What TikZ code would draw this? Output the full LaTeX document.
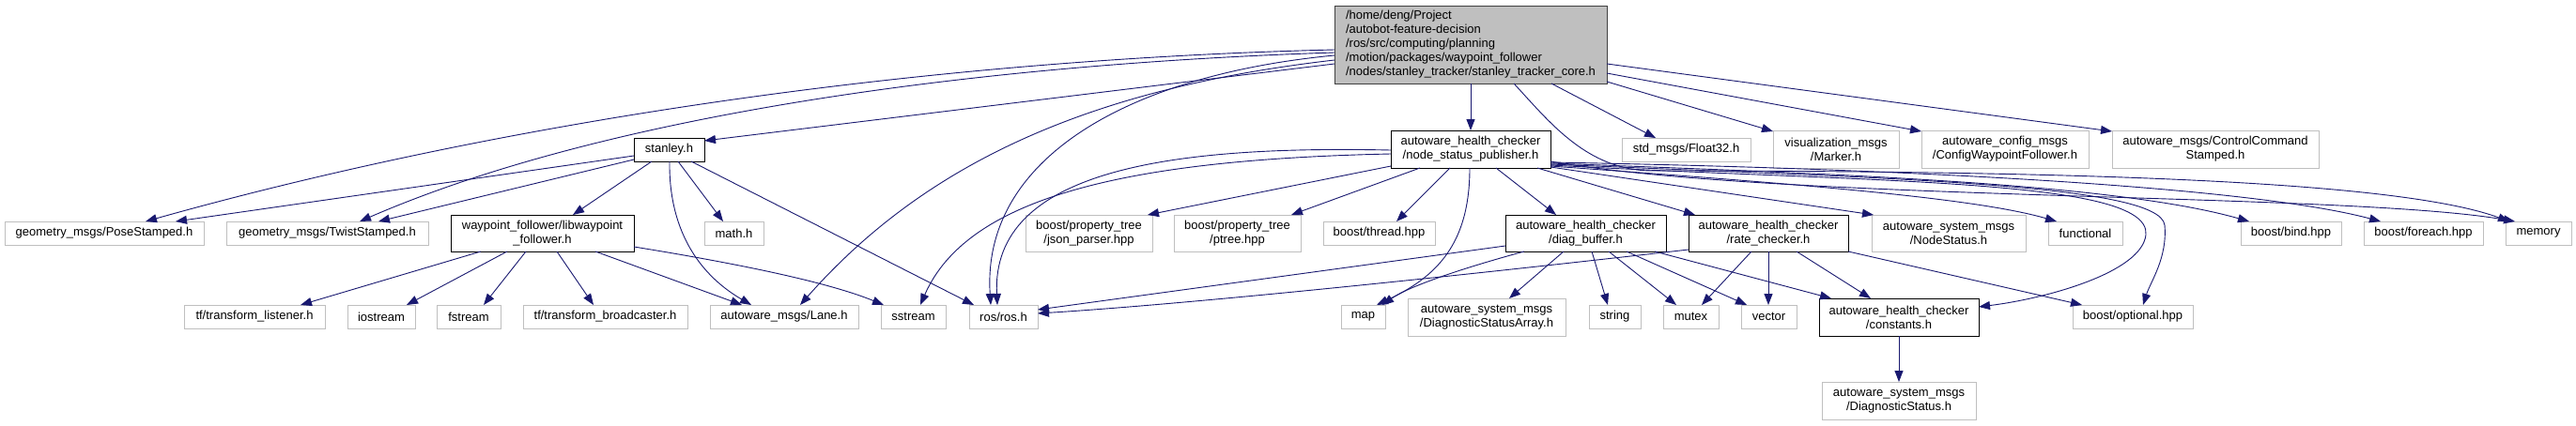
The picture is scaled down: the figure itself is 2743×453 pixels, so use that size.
\documentclass[tikz,border=0pt]{standalone}
\usepackage{fontspec}
\setmainfont{Liberation Sans}
\usetikzlibrary{arrows.meta}
\definecolor{edgeblue}{HTML}{191970}
\definecolor{extgray}{HTML}{BFBFBF}
\definecolor{rootfill}{HTML}{BFBFBF}
\definecolor{rootborder}{HTML}{404040}
\newcommand\nodefont{\fontsize{13}{15}\selectfont}
\begin{document}
\begin{tikzpicture}[x=1pt,y=-1pt,
  box/.style={draw, rectangle, inner sep=0pt, outer sep=0pt, align=center, font=\nodefont, text=black},
  ext/.style={box, draw=extgray, line width=1pt},
  doc/.style={box, draw=black, line width=1pt},
  rootbox/.style={box, draw=rootborder, fill=rootfill, line width=1pt, align=left},
  dep/.style={draw=edgeblue, line width=0.9pt, -{Triangle[length=12pt,width=9pt]}}]
\fill[white] (0,0) rectangle (2743,453);
\useasboundingbox (0,0) rectangle (2743,453);
% row 1
\node[rootbox, minimum width=290, minimum height=83] (root) at (1566,47.5) {/home/deng/Project\\/autobot-feature-decision\\/ros/src/computing/planning\\/motion/packages/waypoint\_follower\\/nodes/stanley\_tracker/stanley\_tracker\_core.h};
% row 2
\node[doc, minimum width=170, minimum height=40] (nsp) at (1566,159) {autoware\_health\_checker\\/node\_status\_publisher.h};
\node[ext, minimum width=137, minimum height=25] (flt) at (1795.5,159.5) {std\_msgs/Float32.h};
\node[ext, minimum width=134, minimum height=40] (mrk) at (1955,159) {visualization\_msgs\\/Marker.h};
\node[ext, minimum width=178, minimum height=40] (cfg) at (2135,159) {autoware\_config\_msgs\\/ConfigWaypointFollower.h};
\node[ext, minimum width=220, minimum height=40] (ctl) at (2359,159) {autoware\_msgs/ControlCommand\\Stamped.h};
\node[doc, minimum width=75, minimum height=25] (stn) at (712.5,159.5) {stanley.h};
% row 3
\node[ext, minimum width=212, minimum height=25] (pose) at (111,248.5) {geometry\_msgs/PoseStamped.h};
\node[ext, minimum width=215, minimum height=25] (twist) at (348.5,248.5) {geometry\_msgs/TwistStamped.h};
\node[doc, minimum width=195, minimum height=39] (lwp) at (577.5,248.5) {waypoint\_follower/libwaypoint\\\_follower.h};
\node[ext, minimum width=63, minimum height=25] (math) at (781.5,248.5) {math.h};
\node[ext, minimum width=135, minimum height=39] (json) at (1159.5,248.5) {boost/property\_tree\\/json\_parser.hpp};
\node[ext, minimum width=135, minimum height=39] (ptree) at (1317.5,248.5) {boost/property\_tree\\/ptree.hpp};
\node[ext, minimum width=119, minimum height=25] (thr) at (1468.5,248.5) {boost/thread.hpp};
\node[doc, minimum width=171, minimum height=39] (diag) at (1688.5,248.5) {autoware\_health\_checker\\/diag\_buffer.h};
\node[doc, minimum width=170, minimum height=39] (rate) at (1883,248.5) {autoware\_health\_checker\\/rate\_checker.h};
\node[ext, minimum width=164, minimum height=39] (nst) at (2075,248.5) {autoware\_system\_msgs\\/NodeStatus.h};
\node[ext, minimum width=79, minimum height=25] (fun) at (2220.5,248.5) {functional};
\node[ext, minimum width=107, minimum height=25] (bind) at (2439.5,248.5) {boost/bind.hpp};
\node[ext, minimum width=127, minimum height=25] (fore) at (2580.5,248.5) {boost/foreach.hpp};
\node[ext, minimum width=70, minimum height=25] (mem) at (2703,248.5) {memory};
% row 4
\node[ext, minimum width=150, minimum height=25] (tfl) at (271,337.5) {tf/transform\_listener.h};
\node[ext, minimum width=72, minimum height=25] (ios) at (406,337.5) {iostream};
\node[ext, minimum width=68, minimum height=25] (fst) at (499,337.5) {fstream};
\node[ext, minimum width=175, minimum height=25] (tfb) at (644.5,337.5) {tf/transform\_broadcaster.h};
\node[ext, minimum width=158, minimum height=25] (lane) at (835,337.5) {autoware\_msgs/Lane.h};
\node[ext, minimum width=69, minimum height=25] (sst) at (972.5,337.5) {sstream};
\node[ext, minimum width=73, minimum height=25] (ros) at (1068.5,337.5) {ros/ros.h};
\node[ext, minimum width=47, minimum height=25] (map) at (1451.5,337.5) {map};
\node[ext, minimum width=168, minimum height=40] (dsa) at (1583,338) {autoware\_system\_msgs\\/DiagnosticStatusArray.h};
\node[ext, minimum width=55, minimum height=25] (str) at (1719.5,337.5) {string};
\node[ext, minimum width=59, minimum height=25] (mtx) at (1800.5,337.5) {mutex};
\node[ext, minimum width=59, minimum height=25] (vec) at (1883.5,337.5) {vector};
\node[doc, minimum width=170, minimum height=40] (cst) at (2022,338) {autoware\_health\_checker\\/constants.h};
\node[ext, minimum width=128, minimum height=25] (opt) at (2271,337.5) {boost/optional.hpp};
% row 5
\node[ext, minimum width=164, minimum height=40] (dst) at (2022,427) {autoware\_system\_msgs\\/DiagnosticStatus.h};

% root edges
\draw[dep] (root.south) -- (nsp.north);
\draw[dep] ([yshift=21]root.south west) -- ([yshift=22]stn.south east);
\draw[dep] ([yshift=36]root.south west) .. controls (1000,63) and (550,125) .. ([xshift=150]pose.north west);
\draw[dep] ([yshift=33]root.south west) .. controls (1050,68) and (650,120) .. ([xshift=142]twist.north west);
\draw[dep] ([yshift=30]root.south west) .. controls (1200,80) and (1045,170) .. ([xshift=23]ros.north west);
\draw[dep] ([yshift=25]root.south west) .. controls (1150,95) and (980,180) .. ([xshift=96]lane.north west);
\draw[dep] ([xshift=231]root.south west) -- ([xshift=36]flt.north west);
\draw[dep] ([yshift=2]root.south east) -- ([yshift=-1]mrk.north west);
\draw[dep] ([yshift=11]root.south east) -- ([yshift=-1]cfg.north west);
\draw[dep] ([yshift=21]root.south east) -- ([yshift=-1]ctl.north west);
\draw[dep] ([xshift=191]root.south west) .. controls (1650,130) and (1690,182) .. (1760,182) .. controls (2250,182) and (2560,195) .. ([xshift=4]mem.north west);
% stanley edges
\draw[dep] ([yshift=6]stn.south west) -- ([xshift=182]pose.north west);
\draw[dep] ([yshift=2]stn.south west) -- ([xshift=162]twist.north west);
\draw[dep] ([xshift=19]stn.south west) -- ([xshift=130]lwp.north west);
\draw[dep] ([xshift=38]stn.south west) .. controls (712,240) and (740,290) .. ([xshift=44]lane.north west);
\draw[dep] ([xshift=47]stn.south west) -- ([xshift=20]math.north west);
\draw[dep] ([xshift=61]stn.south west) -- ([xshift=5]ros.north west);
% libwaypoint_follower edges
\draw[dep] ([xshift=32]lwp.south west) -- ([xshift=124]tfl.north west);
\draw[dep] ([xshift=60]lwp.south west) -- ([xshift=63]ios.north west);
\draw[dep] ([xshift=80]lwp.south west) -- ([xshift=50]fst.north west);
\draw[dep] ([xshift=113]lwp.south west) -- ([xshift=75]tfb.north west);
\draw[dep] ([xshift=154]lwp.south west) -- ([xshift=34]lane.north west);
\draw[dep] ([yshift=5]lwp.south east) .. controls (780,280) and (880,300) .. ([xshift=3]sst.north west);
% node_status_publisher edges
\draw[dep] ([yshift=19]nsp.south west) .. controls (1250,155) and (1055,180) .. ([xshift=30]ros.north west);
\draw[dep] ([yshift=15]nsp.south west) .. controls (1200,170) and (1030,210) .. ([xshift=42]sst.north west);
\draw[dep] ([yshift=2]nsp.south west) -- ([xshift=130]json.north west);
\draw[dep] ([xshift=31]nsp.south west) -- ([xshift=125]ptree.north west);
\draw[dep] ([xshift=63]nsp.south west) -- ([xshift=78]thr.north west);
\draw[dep] ([xshift=84]nsp.south west) .. controls (1565,260) and (1530,295) .. ([xshift=38]map.north west);
\draw[dep] ([xshift=112]nsp.south west) -- ([xshift=54]diag.north west);
\draw[dep] ([xshift=156]nsp.south west) -- ([xshift=7]rate.north west);
\draw[dep] ([yshift=1]nsp.south east) -- ([xshift=2]nst.north west);
\draw[dep] ([yshift=2]nsp.south east) .. controls (1900,195) and (2100,210) .. ([xshift=9]fun.north west);
\draw[dep] ([yshift=3]nsp.south east) .. controls (2000,195) and (2290,190) .. (2285,250) .. controls (2281,290) and (2180,318) .. ([yshift=-9]cst.north east);
\draw[dep] ([yshift=4]nsp.south east) .. controls (2000,190) and (2300,195) .. (2305,240) .. controls (2308,275) and (2290,300) .. ([xshift=75]opt.north west);
\draw[dep] ([yshift=5]nsp.south east) .. controls (1950,185) and (2250,195) .. ([xshift=9]bind.north west);
\draw[dep] ([yshift=6]nsp.south east) .. controls (2050,180) and (2400,200) .. ([xshift=18]fore.north west);
\draw[dep] ([yshift=7]nsp.south east) .. controls (1900,215) and (2500,205) .. ([xshift=10]mem.north west);
% diag_buffer edges
\draw[dep] ([yshift=6]diag.south west) -- ([yshift=20]ros.south east);
\draw[dep] ([xshift=20]diag.south west) .. controls (1560,285) and (1500,305) .. ([xshift=44]map.north west);
\draw[dep] ([xshift=62]diag.south west) -- ([xshift=108]dsa.north west);
\draw[dep] ([xshift=92]diag.south west) -- ([xshift=20]str.north west);
\draw[dep] ([xshift=110]diag.south west) -- ([xshift=14]mtx.north west);
\draw[dep] ([xshift=129]diag.south west) -- ([xshift=6]vec.north west);
\draw[dep] ([xshift=159]diag.south west) -- ([xshift=13]cst.north west);
% rate_checker edges
\draw[dep] ([yshift=2]rate.south west) .. controls (1500,300) and (1250,325) .. ([yshift=16]ros.south east);
\draw[dep] ([xshift=67]rate.south west) -- ([xshift=41]mtx.north west);
\draw[dep] ([xshift=85]rate.south west) -- ([xshift=29]vec.north west);
\draw[dep] ([xshift=115]rate.south west) -- ([xshift=55]cst.north west);
\draw[dep] (rate.south east) -- ([xshift=10]opt.north west);
% constants edge
\draw[dep] (cst.south) -- (dst.north);
\end{tikzpicture}
\end{document}
